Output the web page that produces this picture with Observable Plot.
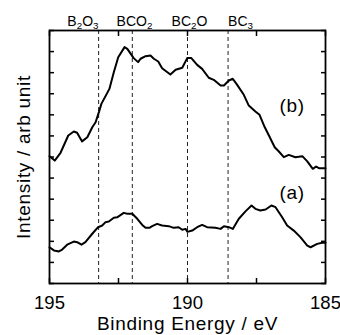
<!DOCTYPE html>
<html><head><meta charset="utf-8">
<script src="https://cdn.jsdelivr.net/npm/d3@7"></script>
<script src="https://cdn.jsdelivr.net/npm/@observablehq/plot@0.6"></script>
<style>body{margin:0;background:#fff}</style>
</head><body><div id="chart"></div>
<script>
// Spectrum (b)
const energyB = [195.00,194.81,194.60,194.32,194.12,194.00,193.82,193.63,193.45,193.33,193.21,193.12,192.83,192.67,192.51,192.28,192.18,191.95,191.79,191.70,191.52,191.34,191.22,191.06,190.92,190.62,190.43,190.19,190.01,189.86,189.65,189.47,189.23,189.05,188.80,188.68,188.50,188.36,188.20,187.96,187.78,187.54,187.39,187.20,187.05,186.84,186.69,186.51,186.33,186.09,185.84,185.66,185.46,185.34,185.24,185.00];
const intensityB = [6.04,5.83,6.20,7.02,7.21,7.15,6.74,6.94,7.41,7.65,8.13,8.52,9.23,10.02,10.73,11.21,11.13,10.69,10.50,10.66,10.78,10.81,10.66,10.53,10.21,9.91,10.14,10.23,10.69,10.69,10.37,10.18,9.76,9.66,9.39,9.39,9.63,9.71,9.42,8.95,8.44,8.16,8.00,7.41,7.02,6.46,6.26,5.99,6.10,5.99,6.04,5.79,5.44,5.55,5.47,5.47];
// Spectrum (a)
const energyA = [195.00,194.84,194.66,194.54,194.36,194.12,194.00,193.84,193.70,193.45,193.24,193.09,192.97,192.85,192.67,192.55,192.31,192.18,192.00,191.82,191.64,191.52,191.38,191.28,191.10,190.92,190.68,190.50,190.32,190.19,190.07,190.00,189.83,189.65,189.47,189.29,188.99,188.80,188.68,188.50,188.36,188.14,187.90,187.68,187.54,187.36,187.17,186.96,186.81,186.57,186.39,186.15,185.91,185.66,185.54,185.30,185.12,185.00];
const intensityA = [1.72,1.57,1.52,1.61,1.84,1.99,1.96,1.84,1.96,2.36,2.67,2.75,2.91,2.94,3.12,3.14,3.35,3.31,3.31,3.07,2.78,2.64,2.64,2.72,2.83,2.75,2.72,2.64,2.67,2.55,2.59,2.45,2.51,2.67,2.78,2.67,2.64,2.59,2.72,2.67,2.59,3.07,3.42,3.70,3.54,3.46,3.51,3.70,3.62,3.14,2.75,2.51,2.20,1.80,1.72,1.88,1.93,1.93];
// Reference binding energies (dashed lines) and their labels
const peakEnergies = [193.22, 192.0, 190.0, 188.53];
const peakLabels = ["B2O3", "BCO2", "BC2O", "BC3"];
const peakLabelX = [193.79, 191.92, 189.93, 188.08];
// Curve labels
const curveNames = ["(b)", "(a)"];
const curveLabelX = [186.21, 186.21];
const curveLabelY = [8.40, 4.32];
// Axes
const xTicks = [195, 192.5, 190, 187.5, 185];
const xTickLabels = [195, 190, 185];
const yTicks = d3.range(0, 13);
const xTitle = "Binding Energy / eV";
const yTitle = "Intensity / arb unit";

const dataB = energyB.map((x, i) => ({x, y: intensityB[i]}));
const dataA = energyA.map((x, i) => ({x, y: intensityA[i]}));
const peakData = peakLabels.map((t, i) => ({t, x: peakLabelX[i]}));
const curveData = curveNames.map((t, i) => ({t, x: curveLabelX[i], y: curveLabelY[i]}));

const font = "Liberation Sans, Arial, Helvetica, sans-serif";
const chart = Plot.plot({
  width: 340, height: 335,
  marginLeft: 49, marginRight: 15, marginTop: 30, marginBottom: 52,
  style: {fontFamily: font, background: "white", color: "black", letterSpacing: "0.7px"},
  x: {domain: [195, 185]},
  y: {domain: [0, 12]},
  marks: [
    Plot.ruleX(peakEnergies, {stroke: "#222", strokeWidth: 1, strokeDasharray: "4,3"}),
    Plot.axisX(xTicks, {anchor: "bottom", tickSize: -5, tickFormat: () => "", label: null, strokeWidth: 1.5}),
    Plot.axisX(xTicks, {anchor: "top", tickSize: -5, tickFormat: () => "", label: null, strokeWidth: 1.5}),
    Plot.axisX(xTickLabels, {anchor: "bottom", tickSize: 0, tickPadding: 12, fontSize: 18.5, label: null}),
    Plot.axisY(yTicks, {anchor: "left", tickSize: -5, tickFormat: () => "", label: null, strokeWidth: 1.5}),
    Plot.axisY(yTicks, {anchor: "right", tickSize: -5, tickFormat: () => "", label: null, strokeWidth: 1.5}),
    Plot.frame({stroke: "black", strokeWidth: 1.8}),
    Plot.line(dataB, {x: "x", y: "y", stroke: "black", strokeWidth: 2}),
    Plot.line(dataA, {x: "x", y: "y", stroke: "black", strokeWidth: 2}),
    Plot.text(peakData, {x: "x", text: "t", frameAnchor: "top", dy: -5, lineAnchor: "bottom", fontSize: 14, fill: "black"}),
    Plot.text(curveData, {x: "x", y: "y", text: "t", fontSize: 19, fill: "black"}),
    Plot.text([xTitle], {text: d => d, frameAnchor: "bottom", textAnchor: "middle", dy: 46, lineAnchor: "bottom", fontSize: 19, fill: "black"}),
    Plot.text([yTitle], {text: d => d, frameAnchor: "left", textAnchor: "middle", dx: -20, rotate: -90, lineAnchor: "bottom", fontSize: 19, fill: "black"})
  ]
});

// Numeric tick labels: no extra letter spacing; peak labels: subscript digits
d3.select(chart).selectAll("text").each(function() {
  const t = this.textContent;
  if (/^\d+$/.test(t)) { d3.select(this).style("letter-spacing", "0px"); return; }
  if (!peakLabels.includes(t)) return;
  const sel = d3.select(this);
  sel.text(null).style("letter-spacing", "0px");
  let sub = false;
  for (const part of t.match(/\d+|\D+/g)) {
    const isDigit = /^\d+$/.test(part);
    const ts = sel.append("tspan").text(part);
    if (isDigit) ts.attr("font-size", "70%").attr("dy", 3);
    else if (sub) ts.attr("dy", -3);
    sub = isDigit;
  }
});

document.getElementById("chart").append(chart);
</script></body></html>
